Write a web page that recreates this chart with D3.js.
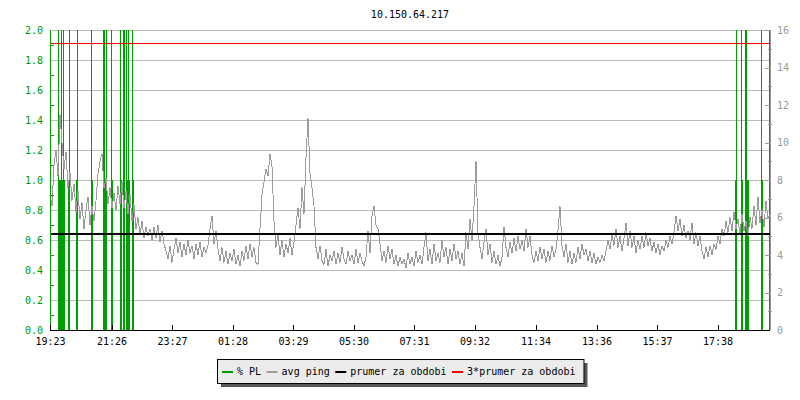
<!DOCTYPE html>
<html lang="en">
<head>
    <meta charset="UTF-8">
    <title>10.150.64.217</title>
    <script src="https://d3js.org/d3.v7.min.js"></script>
    <style>
        body { margin: 0; background: #fff; }
        svg text { font-family: "DejaVu Sans Mono", monospace; font-size: 10px; }
    </style>
</head>
<body>
    <svg></svg>
    <script>
        const title = "10.150.64.217";
        const timeLabels = ["19:23", "21:26", "23:27", "01:28", "03:29", "05:30", "07:31", "09:32", "11:34", "13:36", "15:37", "17:38"];
        const plTicks = [0, 0.2, 0.4, 0.6, 0.8, 1.0, 1.2, 1.4, 1.6, 1.8, 2.0];
        const pingTicks = [0, 2, 4, 6, 8, 10, 12, 14, 16];
        const legendLabels = ["% PL", "avg ping", "prumer za obdobi", "3*prumer za obdobi"];

        // avg ping [ms], one sample every 4 minutes, starting 19:23
        const avgPing = [
            7.3, 6.6, 8.8, 9.6, 8.2, 11.5, 10.0, 8.6, 9.5, 7.6, 8.4, 6.9, 7.8, 6.3, 7.4, 5.9, 6.8, 5.4, 6.4, 7.1,
            5.6, 6.6, 5.8, 6.9, 8.3, 9.0, 9.4, 7.6, 8.1, 6.7, 7.6, 6.5, 7.3, 6.4, 7.7, 6.7, 7.9, 6.5, 7.4, 6.2, 7.2,
            5.8, 6.7, 5.4, 6.0, 5.1, 5.8, 4.9, 5.5, 5.0, 5.4, 4.8, 5.5, 4.9, 5.6, 4.7, 5.3, 4.6, 4.2, 3.8, 4.5,
            3.6, 4.3, 4.9, 4.1, 4.7, 3.9, 4.6, 4.0, 4.8, 4.1, 4.5, 3.8, 4.6, 4.0, 4.7, 3.9, 4.4, 4.1, 4.5, 5.4,
            6.1, 4.6, 5.3, 4.3, 3.7, 4.4, 3.6, 4.2, 3.5, 4.1, 3.7, 4.3, 3.5, 4.0, 3.4, 4.2, 3.7, 4.5, 3.8, 4.6,
            3.9, 4.4, 3.6, 3.5, 5.4, 7.2, 7.9, 8.6, 8.2, 9.4, 8.7, 5.8, 4.4, 5.1, 4.0, 4.8, 3.9, 4.6, 4.1, 4.9,
            4.0, 4.7, 5.6, 6.5, 5.4, 7.6, 6.2, 9.2, 11.3, 8.4, 7.6, 6.6, 4.4, 3.8, 4.5, 3.7, 3.5, 4.3, 3.4, 4.0,
            3.7, 4.2, 3.5, 4.1, 3.6, 4.4, 3.8, 3.5, 4.2, 3.7, 4.0, 3.5, 4.3, 3.6, 4.1, 3.7, 3.4, 3.9, 5.3, 4.1,
            6.1, 6.6, 5.6, 5.4, 4.6, 3.7, 4.2, 3.6, 4.5, 3.8, 4.3, 3.5, 4.0, 3.4, 3.9, 3.5, 3.8, 3.3, 4.1, 3.5,
            3.9, 3.4, 4.2, 3.6, 4.0, 3.5, 4.4, 5.2, 3.7, 4.3, 3.5, 4.6, 3.7, 4.1, 3.6, 4.8, 3.9, 4.4, 3.5, 4.3,
            3.7, 4.6, 3.8, 4.2, 3.5, 4.1, 3.4, 5.2, 4.3, 5.9, 4.8, 6.6, 9.0, 5.2, 4.4, 3.8, 4.7, 5.4, 4.0, 4.6,
            3.6, 4.2, 3.5, 4.0, 3.4, 3.9, 5.5, 4.4, 3.9, 4.7, 4.1, 4.9, 4.2, 5.0, 4.3, 4.8, 4.2, 5.4, 4.4, 5.0,
            4.0, 3.6, 4.2, 3.7, 4.4, 3.8, 4.3, 3.6, 4.2, 3.7, 4.5, 3.9, 4.3, 5.3, 6.6, 4.5, 3.9, 4.6, 3.6, 4.2,
            3.5, 4.1, 3.6, 4.4, 3.8, 4.6, 4.0, 4.3, 3.7, 4.2, 3.6, 4.1, 3.5, 3.9, 3.6, 4.0, 3.7, 4.2, 4.8, 4.3,
            5.1, 4.5, 5.4, 4.4, 5.0, 4.2, 4.9, 5.7, 4.5, 5.3, 4.4, 5.0, 4.1, 4.8, 4.3, 5.0, 4.4, 5.2, 4.5, 4.9,
            4.2, 4.7, 4.1, 4.6, 4.0, 4.5, 4.2, 4.8, 4.4, 5.0, 4.6, 5.2, 6.1, 5.3, 5.9, 5.0, 5.6, 4.9, 5.3, 4.8,
            5.7, 4.6, 5.2, 4.5, 5.0, 4.2, 3.8, 4.4, 3.9, 4.5, 4.0, 4.6, 4.3, 5.0, 4.6, 5.4, 5.0, 5.8, 5.2, 6.0,
            5.3, 6.3, 5.4, 5.9, 5.1, 6.2, 5.3, 5.8, 5.0, 6.0, 5.4, 6.6, 5.6, 7.1, 5.7, 6.4, 5.5, 6.9, 5.9, 6.2
        ];

        // packet loss samples: minutes after 19:23 and loss in %
        const lossMinutes = [15, 17, 22, 22, 25, 26, 36, 37, 52, 53, 81, 81, 105, 105, 107, 109, 111, 121, 121, 139,
            139, 145, 146, 147, 151, 152, 155, 156, 163, 164,
            1369, 1371, 1381, 1382, 1389, 1390, 1392, 1393, 1421, 1421, 1437, 1437];
        const lossPct = [3, 1, 3, 1, 3, 1, 1, 3, 1, 3, 3, 1, 3, 1, 3, 1, 3, 3, 1, 3,
            1, 3, 1, 3, 3, 1, 3, 1, 3, 1,
            1, 3, 3, 1, 3, 1, 3, 1, 3, 1, 3, 1];

        const prumer = 5.1; // ms

        const width = 800, height = 400;
        const plotLeft = 50, plotRight = 770, plotTop = 30, plotBottom = 330;
        const green = "#009f00", gray = "#9c9c9c", red = "#ff0000";

        const svg = d3.select("svg").attr("width", width).attr("height", height);

        const base = new Date(2000, 0, 1, 19, 23);
        const atMinute = m => new Date(base.getTime() + m * 60000);

        const x = d3.scaleTime().domain([base, atMinute(1440)]).range([plotLeft, plotRight]);
        const yL = d3.scaleLinear().domain([0, 2]).range([plotBottom, plotTop]).clamp(true);
        const yR = d3.scaleLinear().domain([0, 16]).range([plotBottom, plotTop]);

        // tick labels -> dates (rolling over midnight)
        let day = 1, prev = -1;
        const tickDates = timeLabels.map(s => {
            const [h, m] = s.split(":").map(Number);
            if (h * 60 + m < prev) day++;
            prev = h * 60 + m;
            return new Date(2000, 0, day, h, m);
        });

        // title
        svg.append("text")
            .attr("x", (plotLeft + plotRight) / 2).attr("y", 17.5)
            .attr("text-anchor", "middle")
            .text(title);

        // grid
        svg.append("g").selectAll("line")
            .data(plTicks.filter(d => d > 0))
            .join("line")
            .attr("x1", plotLeft).attr("x2", plotRight)
            .attr("y1", d => Math.round(yL(d)) + 0.5).attr("y2", d => Math.round(yL(d)) + 0.5)
            .attr("stroke", "#bbb");

        // packet loss
        const pl = lossMinutes.map((m, i) => ({ t: atMinute(m), v: lossPct[i] }));
        svg.append("g")
            .attr("shape-rendering", "crispEdges")
            .selectAll("line")
            .data(pl)
            .join("line")
            .attr("x1", d => Math.round(x(d.t)) + 0.5).attr("x2", d => Math.round(x(d.t)) + 0.5)
            .attr("y1", plotBottom).attr("y2", d => yL(d.v))
            .attr("stroke", green)
            .attr("stroke-width", d => d.v <= 2 ? 2 : 1);

        // avg ping
        const step = 1440 / (avgPing.length - 1);
        const line = d3.line()
            .x((d, i) => x(atMinute(i * step)))
            .y(d => yR(d));
        svg.append("path")
            .datum(avgPing)
            .attr("d", line)
            .attr("fill", "none")
            .attr("stroke", gray)
            .attr("stroke-width", 1)
            .attr("shape-rendering", "crispEdges");

        // average and 3x average
        svg.append("line")
            .attr("x1", plotLeft).attr("x2", plotRight)
            .attr("y1", Math.round(yR(prumer))).attr("y2", Math.round(yR(prumer)))
            .attr("stroke", "#000").attr("stroke-width", 2);
        svg.append("line")
            .attr("x1", plotLeft).attr("x2", plotRight)
            .attr("y1", Math.round(yR(3 * prumer)) + 0.5).attr("y2", Math.round(yR(3 * prumer)) + 0.5)
            .attr("stroke", red).attr("stroke-width", 1);

        // left axis (% PL)
        const leftAxis = svg.append("g")
            .attr("transform", `translate(${plotLeft},0)`)
            .call(d3.axisLeft(yL).tickValues(plTicks).tickFormat(d3.format(".1f")).tickSize(0).tickPadding(7));
        leftAxis.select(".domain").remove();
        leftAxis.selectAll("text").attr("fill", "#009900");
        svg.append("g").selectAll("line")
            .data(d3.range(1, 20, 2).map(d => d / 10))
            .join("line")
            .attr("x1", plotLeft).attr("x2", plotLeft + 4)
            .attr("y1", d => Math.round(yL(d)) + 0.5).attr("y2", d => Math.round(yL(d)) + 0.5)
            .attr("stroke", green);
        svg.append("line")
            .attr("x1", plotLeft + 0.5).attr("x2", plotLeft + 0.5)
            .attr("y1", plotTop).attr("y2", plotBottom)
            .attr("stroke", green);

        // right axis (ms)
        const rightAxis = svg.append("g")
            .attr("transform", `translate(${plotRight},0)`)
            .call(d3.axisRight(yR).tickValues(pingTicks).tickSize(0).tickPadding(7));
        rightAxis.select(".domain").remove();
        rightAxis.selectAll("text").attr("fill", "#999");
        svg.append("g").selectAll("line")
            .data(pingTicks)
            .join("line")
            .attr("x1", plotRight - 5).attr("x2", plotRight)
            .attr("y1", d => Math.round(yR(d)) + 0.5).attr("y2", d => Math.round(yR(d)) + 0.5)
            .attr("stroke", "#999");
        svg.append("g").selectAll("line")
            .data(d3.range(1, 16, 2))
            .join("line")
            .attr("x1", plotRight - 2).attr("x2", plotRight + 2)
            .attr("y1", d => Math.round(yR(d)) + 0.5).attr("y2", d => Math.round(yR(d)) + 0.5)
            .attr("stroke", "#999");
        svg.append("line")
            .attr("x1", plotRight + 0.5).attr("x2", plotRight + 0.5)
            .attr("y1", plotTop).attr("y2", plotBottom)
            .attr("stroke", "#999");

        // time axis
        const timeAxis = svg.append("g")
            .attr("transform", `translate(0,${plotBottom})`)
            .call(d3.axisBottom(x).tickValues(tickDates).tickFormat((d, i) => timeLabels[i]).tickSize(0).tickPadding(8));
        timeAxis.select(".domain").remove();
        timeAxis.selectAll("text").attr("fill", "#000");
        svg.append("g").selectAll("line")
            .data(tickDates)
            .join("line")
            .attr("x1", d => Math.round(x(d)) + 0.5).attr("x2", d => Math.round(x(d)) + 0.5)
            .attr("y1", plotBottom - 5).attr("y2", plotBottom)
            .attr("stroke", "#000");
        svg.append("line")
            .attr("x1", plotLeft).attr("x2", plotRight)
            .attr("y1", plotBottom + 0.5).attr("y2", plotBottom + 0.5)
            .attr("stroke", "#000");

        // legend
        const legendColors = [green, gray, "#000", red];
        const lg = svg.append("g");
        const shadow = lg.append("rect").attr("fill", "#555");
        const box = lg.append("rect").attr("fill", "#ebebeb").attr("stroke", "#000");
        let cx = 222;
        legendLabels.forEach((label, i) => {
            lg.append("line")
                .attr("x1", cx).attr("x2", cx + 11)
                .attr("y1", 372).attr("y2", 372)
                .attr("stroke", legendColors[i]).attr("stroke-width", 2);
            const t = lg.append("text").attr("x", cx + 15).attr("y", 374.5).text(label);
            cx += 15 + t.node().getComputedTextLength() + 5.5;
        });
        const bx = 217.5, by = 359.5, bw = cx - 5.5 + 8.5 - bx, bh = 24;
        box.attr("x", bx).attr("y", by).attr("width", bw).attr("height", bh);
        shadow.attr("x", bx + 3.5).attr("y", by + 3.5).attr("width", bw).attr("height", bh);
    </script>
</body>
</html>
